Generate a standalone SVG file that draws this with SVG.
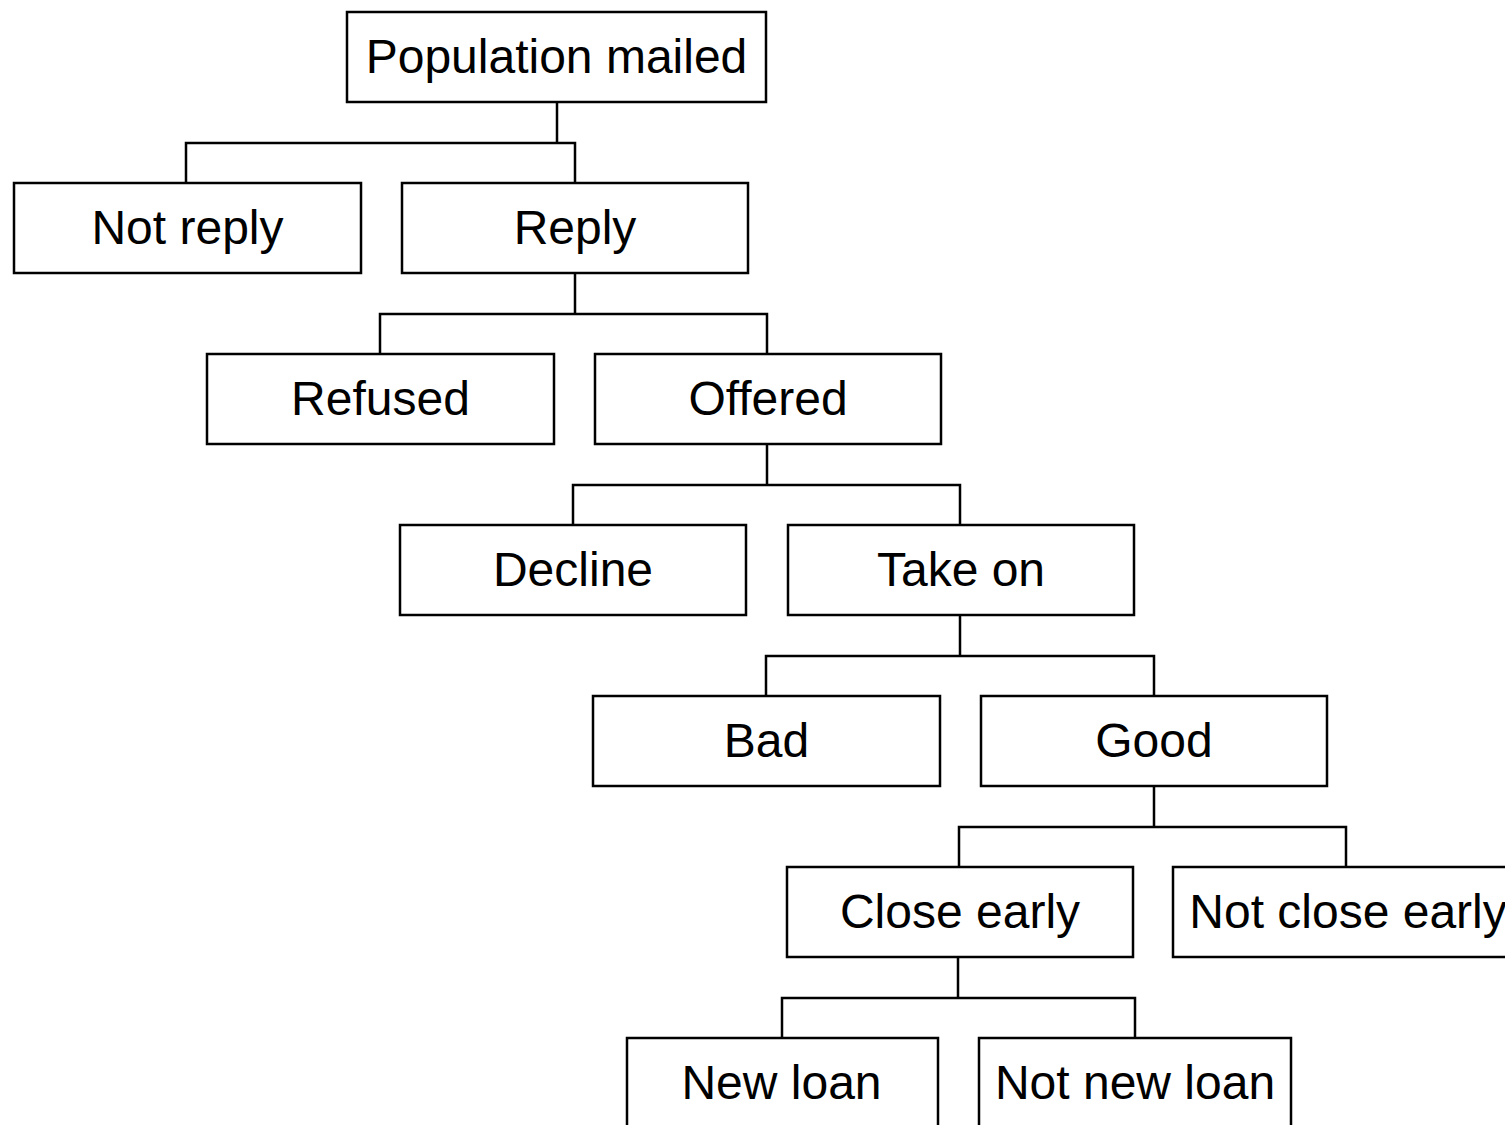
<svg xmlns="http://www.w3.org/2000/svg" width="1505" height="1125" viewBox="0 0 1505 1125">
<style>
.box rect{fill:#fff;stroke:#000;stroke-width:2.5}
.box text{font-family:"Liberation Sans",Arial,sans-serif;font-size:48px;fill:#000;text-anchor:middle}
#connectors path{fill:none;stroke:#000;stroke-width:2.5}
</style>
<rect width="1505" height="1125" fill="#fff"/>
<g id="connectors">
<path d="M557,102V143M186,183V143H575V183"/>
<path d="M575,273V314M380,354V314H767V354"/>
<path d="M767,444V485M573,525V485H960V525"/>
<path d="M960,615V656M766,696V656H1154V696"/>
<path d="M1154,786V827M959,867V827H1346V867"/>
<path d="M958,957V998M782,1038V998H1135V1038"/>
</g>
<g id="n-population" class="box"><rect x="347" y="12" width="419" height="90"/><text x="556.5" y="73">Population mailed</text></g>
<g id="n-notreply" class="box"><rect x="14" y="183" width="347" height="90"/><text x="187.5" y="244">Not reply</text></g>
<g id="n-reply" class="box"><rect x="402" y="183" width="346" height="90"/><text x="575" y="244">Reply</text></g>
<g id="n-refused" class="box"><rect x="207" y="354" width="347" height="90"/><text x="380.5" y="415">Refused</text></g>
<g id="n-offered" class="box"><rect x="595" y="354" width="346" height="90"/><text x="768" y="415">Offered</text></g>
<g id="n-decline" class="box"><rect x="400" y="525" width="346" height="90"/><text x="573" y="586">Decline</text></g>
<g id="n-takeon" class="box"><rect x="788" y="525" width="346" height="90"/><text x="961" y="586">Take on</text></g>
<g id="n-bad" class="box"><rect x="593" y="696" width="347" height="90"/><text x="766.5" y="757">Bad</text></g>
<g id="n-good" class="box"><rect x="981" y="696" width="346" height="90"/><text x="1154" y="757">Good</text></g>
<g id="n-closeearly" class="box"><rect x="787" y="867" width="346" height="90"/><text x="960" y="928">Close early</text></g>
<g id="n-notcloseearly" class="box"><rect x="1173" y="867" width="346" height="90"/><text x="1348" y="928">Not close early</text></g>
<g id="n-newloan" class="box"><rect x="627" y="1038" width="311" height="100"/><text x="781.5" y="1099">New loan</text></g>
<g id="n-notnewloan" class="box"><rect x="979" y="1038" width="312" height="100"/><text x="1135" y="1099">Not new loan</text></g>
</svg>
